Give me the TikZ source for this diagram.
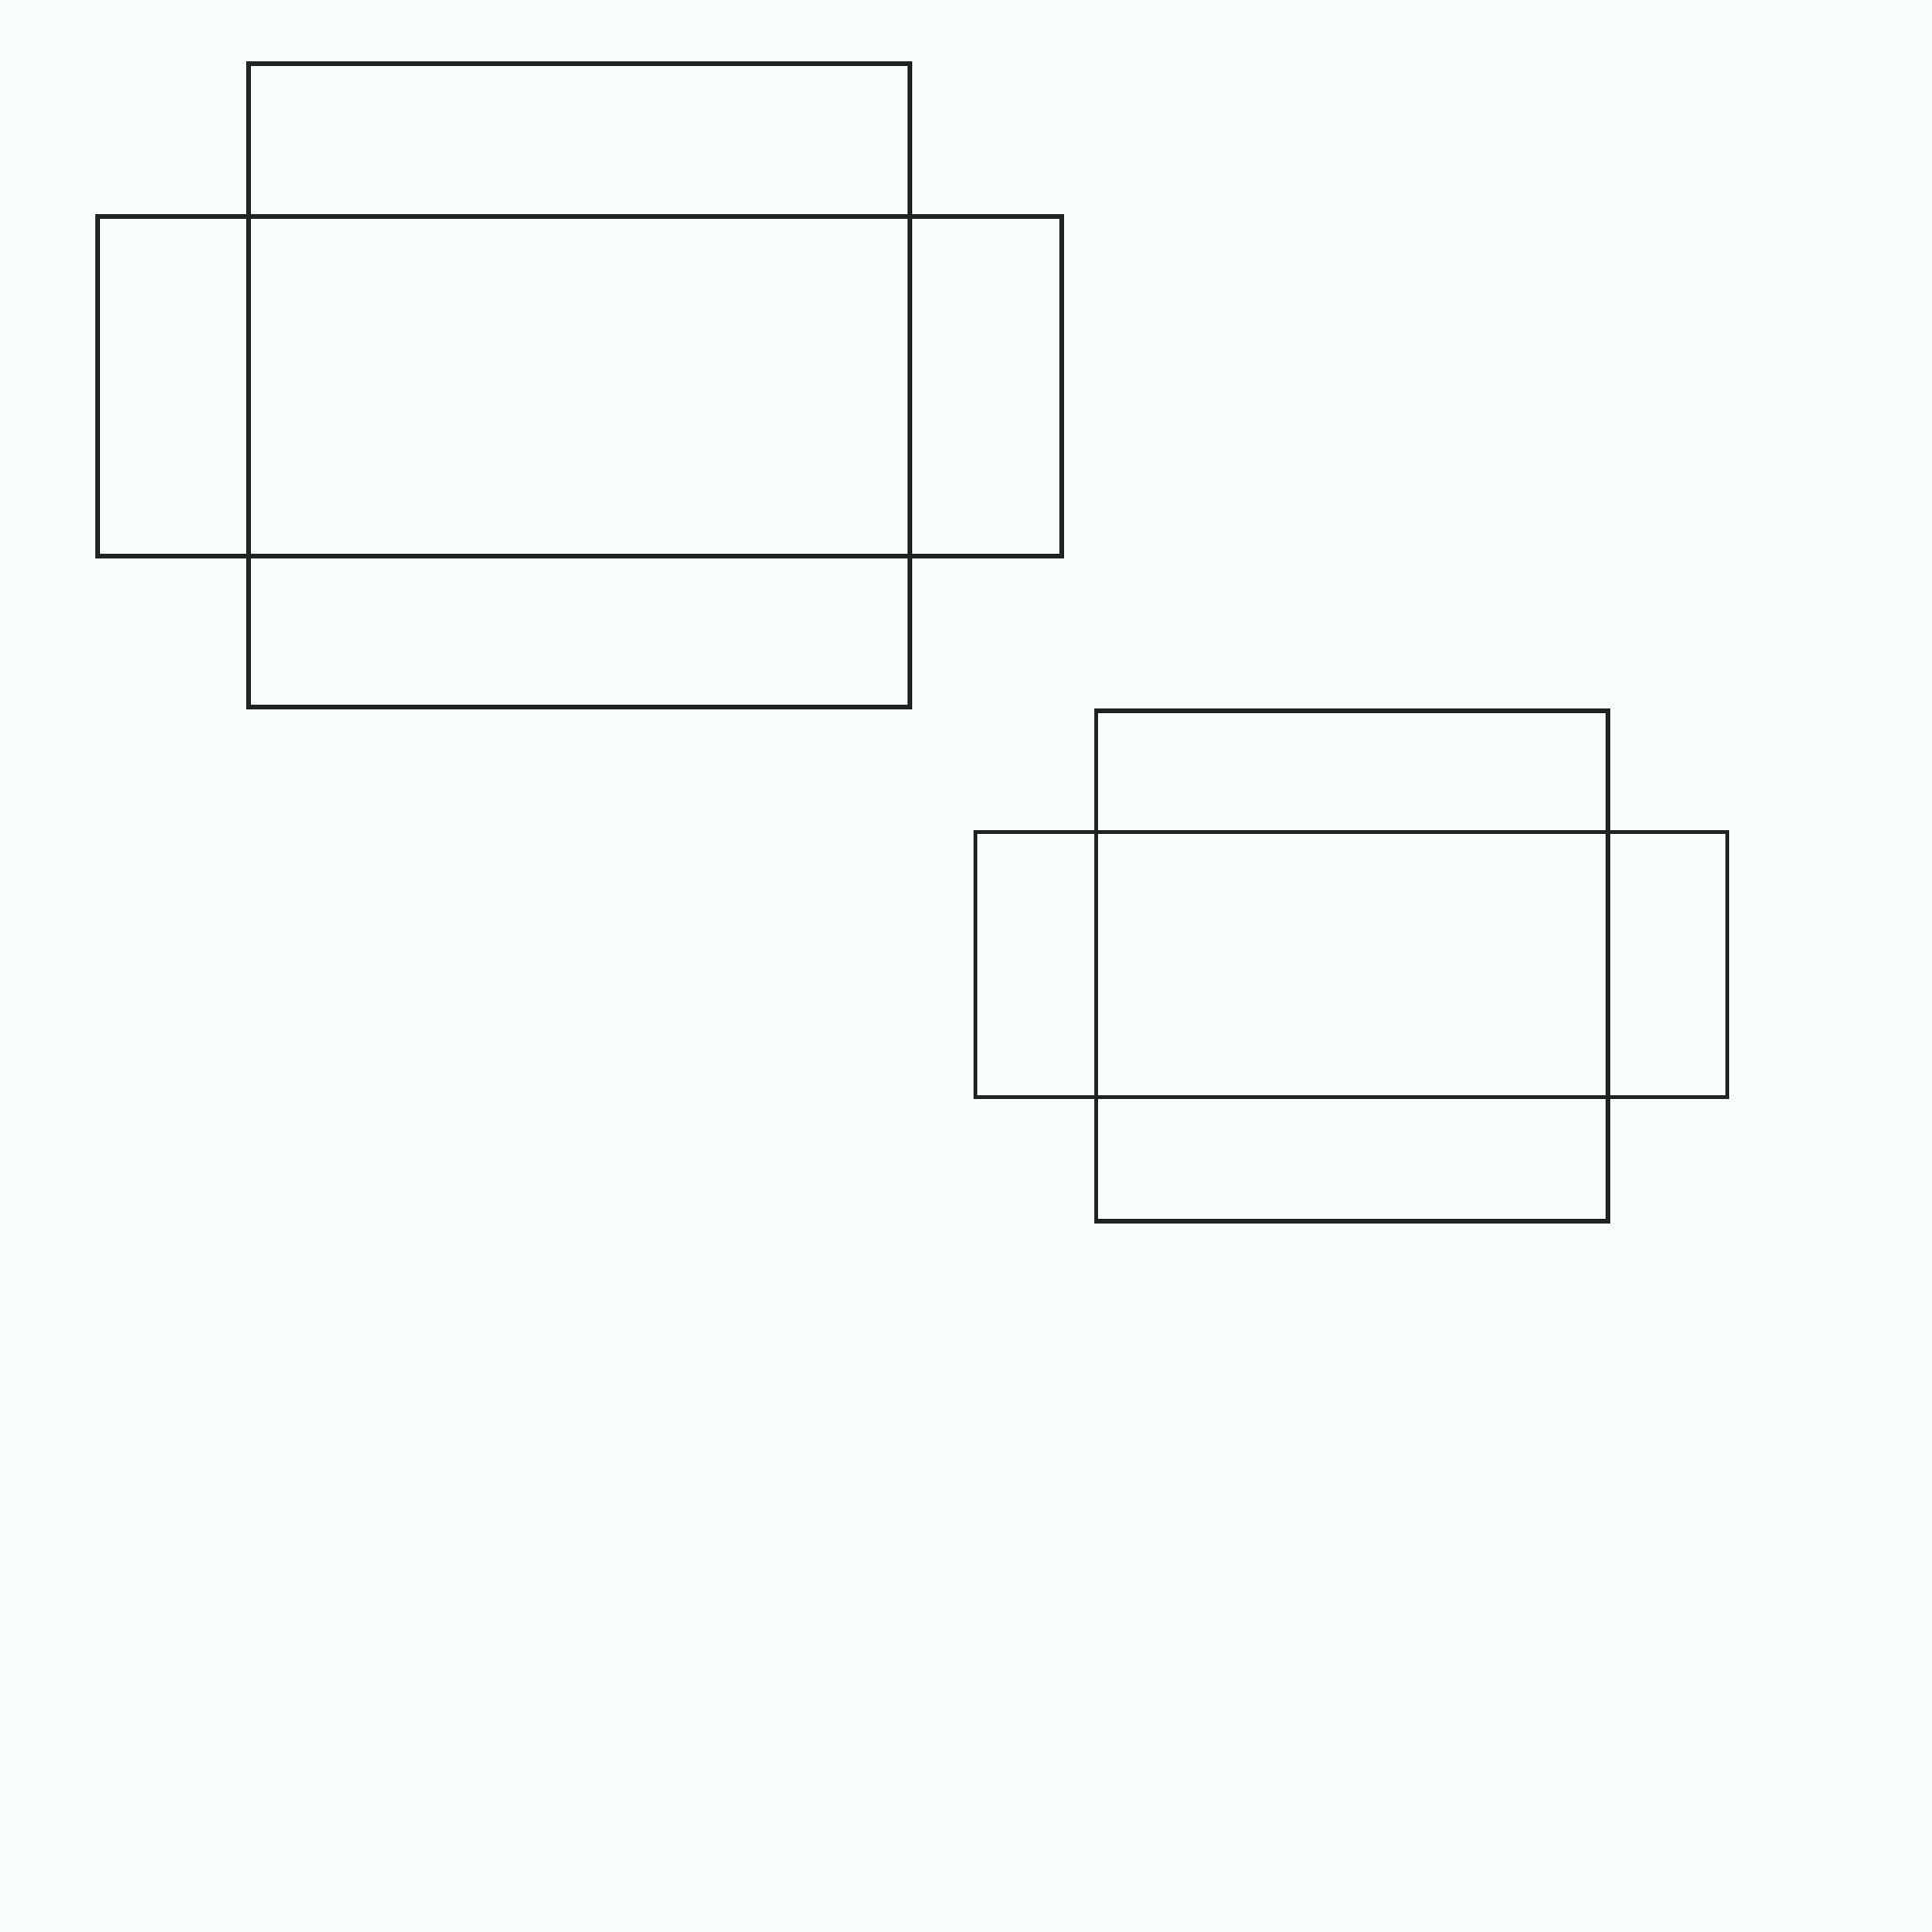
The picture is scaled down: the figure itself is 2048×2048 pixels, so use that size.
\documentclass[tikz,border=0pt]{standalone}
\definecolor{paper}{RGB}{248,252,251}
\definecolor{ink}{RGB}{34,36,35}
\tikzset{
    box/.style={draw=ink, line width=1.4pt, line join=miter},
}
\begin{document}
\begin{tikzpicture}[x=0.01cm, y=-0.01cm]
    \fill[paper] (0,0) rectangle (2048,2048);
    \useasboundingbox (0,0) rectangle (2048,2048);
    % large cross
    \draw[box] (263.5,67.5) rectangle (964.5,749.5);
    \draw[box] (103.5,229.5) rectangle (1125.5,589.5);
    % small cross
    \draw[box] (1162,753.5) rectangle (1704.5,1294.5);
    \draw[box] (1034,882) rectangle (1831,1163);
\end{tikzpicture}
\end{document}
